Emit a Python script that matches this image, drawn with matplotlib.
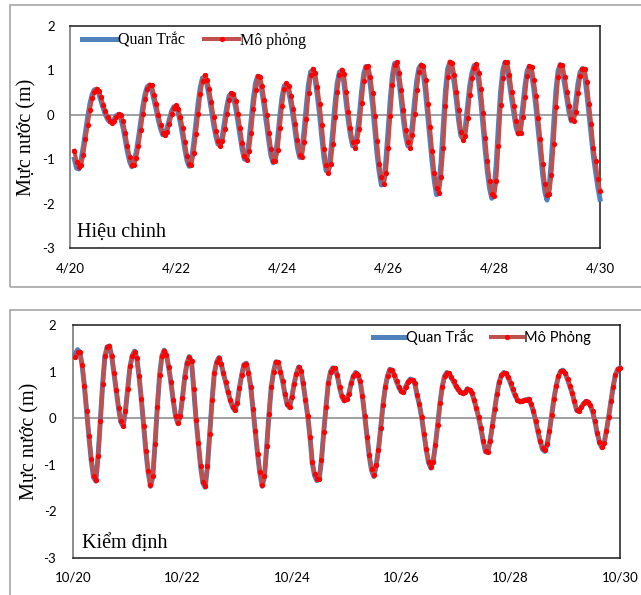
import numpy as np
import matplotlib

matplotlib.use("Agg")
import matplotlib.pyplot as plt
from matplotlib.lines import Line2D
from matplotlib.patches import Rectangle

W, H = 641, 595
SANS = ["Lato", "DejaVu Sans"]
SERIF = ["Liberation Serif", "DejaVu Serif"]
BLUE, RED_LINE, RED_DOT, AXIS_GREY, BOX_GREY = "#4F81BD", "#C0504D", "#FF0000", "#868686", "#A6A6A6"

# Hiệu chỉnh: hourly water level (m), 4/20 02:00 -> 4/30 00:00
START1 = 2
SIM1 = [
    -0.81, -1.06, -1.17, -1.13, -0.91, -0.55, -0.23, 0.11, 0.37, 0.52, 0.59, 0.54,
    0.41, 0.23, 0.08, -0.06, -0.14, -0.18, -0.14, -0.06, 0.02, 0.00, -0.15, -0.40,
    -0.70, -0.95, -1.12, -1.12, -0.97, -0.70, -0.35, 0.02, 0.36, 0.57, 0.68, 0.66,
    0.45, 0.25, 0.00, -0.22, -0.40, -0.46, -0.38, -0.20, 0.01, 0.15, 0.21, 0.14,
    -0.05, -0.30, -0.62, -0.92, -1.11, -1.12, -0.85, -0.44, 0.02, 0.47, 0.76, 0.89,
    0.79, 0.58, 0.28, -0.05, -0.36, -0.58, -0.70, -0.60, -0.32, 0.02, 0.34, 0.49,
    0.46, 0.32, 0.02, -0.30, -0.64, -0.93, -1.01, -0.82, -0.42, 0.14, 0.55, 0.87,
    0.86, 0.64, 0.33, 0.00, -0.40, -0.76, -1.03, -1.04, -0.79, -0.30, 0.20, 0.58,
    0.71, 0.64, 0.42, 0.14, -0.20, -0.57, -0.90, -0.94, -0.61, -0.10, 0.48, 0.89,
    1.04, 0.95, 0.63, 0.25, -0.22, -0.76, -1.13, -1.30, -1.11, -0.65, -0.05, 0.52,
    0.89, 1.02, 0.93, 0.52, 0.07, -0.30, -0.62, -0.74, -0.58, -0.31, 0.26, 0.76,
    1.08, 1.10, 0.86, 0.48, -0.02, -0.60, -1.11, -1.41, -1.56, -1.32, -0.74, -0.03,
    0.66, 1.12, 1.19, 0.95, 0.56, 0.10, -0.34, -0.62, -0.74, -0.46, 0.02, 0.55,
    0.96, 1.13, 1.10, 0.78, 0.24, -0.28, -0.82, -1.32, -1.65, -1.77, -1.40, -0.75,
    0.20, 0.85, 1.20, 1.16, 0.90, 0.52, 0.10, -0.38, -0.56, -0.48, -0.08, 0.45,
    0.82, 1.06, 1.15, 0.95, 0.58, 0.05, -0.52, -1.05, -1.50, -1.78, -1.84, -1.50,
    -0.70, 0.22, 0.82, 1.18, 1.18, 0.90, 0.52, 0.20, -0.15, -0.40, -0.40, -0.05,
    0.40, 0.88, 1.10, 1.08, 0.78, 0.42, -0.08, -0.55, -1.10, -1.55, -1.80, -1.78,
    -1.35, -0.65, 0.18, 0.85, 1.13, 1.12, 0.85, 0.52, 0.20, -0.10, -0.14, 0.06,
    0.50, 0.88, 1.04, 1.04, 0.75, 0.25, -0.20, -0.75, -1.05, -1.45, -1.71,
]
OBS1 = [
    -1.00, -1.20, -1.22, -1.02, -0.73, -0.39, -0.06, 0.24, 0.45, 0.56, 0.57, 0.48,
    0.32, 0.16, 0.01, -0.10, -0.16, -0.16, -0.10, -0.02, 0.01, -0.08, -0.28, -0.55,
    -0.83, -1.05, -1.17, -1.08, -0.84, -0.53, -0.17, 0.19, 0.47, 0.63, 0.67, 0.56,
    0.35, 0.13, -0.11, -0.31, -0.45, -0.44, -0.29, -0.10, 0.08, 0.18, 0.18, 0.05,
    -0.18, -0.46, -0.77, -1.03, -1.16, -1.02, -0.65, -0.21, 0.25, 0.62, 0.83, 0.84,
    0.69, 0.43, 0.12, -0.21, -0.47, -0.66, -0.67, -0.46, -0.15, 0.18, 0.42, 0.48,
    0.39, 0.17, -0.14, -0.47, -0.79, -1.00, -0.95, -0.62, -0.14, 0.35, 0.71, 0.87,
    0.75, 0.49, 0.17, -0.20, -0.58, -0.92, -1.08, -0.94, -0.55, -0.05, 0.39, 0.65,
    0.68, 0.53, 0.28, -0.03, -0.39, -0.74, -0.96, -0.80, -0.36, 0.19, 0.69, 0.97,
    1.00, 0.79, 0.44, 0.02, -0.49, -0.97, -1.26, -1.25, -0.88, -0.35, 0.24, 0.71,
    0.96, 0.98, 0.73, 0.30, -0.12, -0.46, -0.70, -0.69, -0.45, -0.03, 0.51, 0.92,
    1.09, 0.98, 0.67, 0.23, -0.31, -0.86, -1.28, -1.58, -1.55, -1.05, -0.39, 0.32,
    0.89, 1.16, 1.07, 0.76, 0.33, -0.12, -0.48, -0.70, -0.62, -0.22, 0.29, 0.76,
    1.05, 1.12, 0.94, 0.51, -0.02, -0.55, -1.07, -1.50, -1.80, -1.60, -1.08, -0.28,
    0.53, 1.03, 1.18, 1.03, 0.71, 0.31, -0.14, -0.47, -0.54, -0.28, 0.19, 0.64,
    0.94, 1.11, 1.05, 0.77, 0.32, -0.24, -0.79, -1.28, -1.66, -1.88, -1.72, -1.12,
    -0.24, 0.52, 1.00, 1.18, 1.04, 0.71, 0.36, 0.03, -0.28, -0.43, -0.24, 0.17,
    0.64, 0.99, 1.09, 0.93, 0.60, 0.17, -0.32, -0.83, -1.33, -1.72, -1.92, -1.62,
    -1.00, -0.24, 0.52, 0.99, 1.13, 0.98, 0.68, 0.36, 0.05, -0.14, -0.06, 0.28,
    0.69, 0.96, 1.04, 0.90, 0.50, 0.02, -0.48, -0.92, -1.28, -1.62, -1.90,
]

# Kiểm định: hourly water level (m), 10/20 01:00 -> 10/30 00:00
START2 = 1
SIM2 = [
    1.31, 1.41, 1.41, 1.15, 0.70, 0.15, -0.39, -0.88, -1.25, -1.33, -0.82, -0.05,
    0.73, 1.33, 1.53, 1.54, 1.33, 0.97, 0.61, 0.22, -0.07, -0.16, 0.16, 0.63,
    1.11, 1.34, 1.43, 1.29, 0.90, 0.41, -0.16, -0.71, -1.14, -1.43, -1.24, -0.55,
    0.25, 0.93, 1.33, 1.45, 1.36, 1.10, 0.77, 0.38, 0.05, -0.10, 0.04, 0.43,
    0.88, 1.18, 1.31, 1.22, 0.62, -0.03, -0.53, -1.02, -1.36, -1.45, -1.02, -0.33,
    0.38, 0.97, 1.20, 1.29, 1.17, 0.97, 0.78, 0.57, 0.40, 0.25, 0.18, 0.33,
    0.65, 0.93, 1.15, 1.17, 0.98, 0.68, 0.20, -0.28, -0.76, -1.16, -1.43, -1.24,
    -0.60, 0.10, 0.68, 1.00, 1.20, 1.20, 1.00, 0.80, 0.52, 0.30, 0.24, 0.45,
    0.74, 0.95, 1.09, 1.02, 0.75, 0.40, 0.05, -0.40, -0.95, -1.20, -1.30, -1.30,
    -0.90, -0.30, 0.25, 0.75, 1.00, 1.07, 1.07, 0.92, 0.66, 0.47, 0.38, 0.41,
    0.52, 0.75, 0.90, 0.97, 0.92, 0.80, 0.48, 0.05, -0.40, -0.80, -1.10, -1.22,
    -1.00, -0.68, -0.21, 0.29, 0.66, 0.91, 1.04, 1.03, 0.93, 0.79, 0.67, 0.58,
    0.56, 0.68, 0.78, 0.83, 0.82, 0.75, 0.50, 0.30, 0.02, -0.33, -0.66, -0.93,
    -1.05, -0.93, -0.57, -0.14, 0.32, 0.68, 0.90, 0.97, 0.96, 0.88, 0.79, 0.70,
    0.62, 0.57, 0.54, 0.56, 0.63, 0.61, 0.55, 0.40, 0.22, 0.02, -0.21, -0.48,
    -0.70, -0.72, -0.48, -0.16, 0.19, 0.52, 0.78, 0.92, 0.97, 0.96, 0.88, 0.76,
    0.62, 0.50, 0.40, 0.36, 0.37, 0.39, 0.40, 0.41, 0.31, 0.16, -0.05, -0.28,
    -0.48, -0.65, -0.69, -0.56, -0.28, 0.06, 0.42, 0.70, 0.90, 1.01, 1.02, 0.96,
    0.84, 0.70, 0.55, 0.36, 0.18, 0.16, 0.24, 0.32, 0.36, 0.34, 0.28, 0.15,
    -0.06, -0.31, -0.50, -0.61, -0.53, -0.28, 0.03, 0.36, 0.68, 0.93, 1.05, 1.07,
]
OBS2 = [
    1.38, 1.47, 1.42, 1.14, 0.69, 0.14, -0.40, -0.90, -1.27, -1.35, -0.83, -0.06,
    0.72, 1.33, 1.53, 1.55, 1.33, 0.96, 0.60, 0.21, -0.08, -0.17, 0.15, 0.62,
    1.10, 1.34, 1.44, 1.29, 0.89, 0.40, -0.17, -0.72, -1.16, -1.46, -1.26, -0.56,
    0.24, 0.92, 1.33, 1.46, 1.36, 1.09, 0.76, 0.37, 0.04, -0.11, 0.03, 0.42,
    0.87, 1.18, 1.32, 1.22, 0.61, -0.04, -0.54, -1.04, -1.39, -1.48, -1.04, -0.34,
    0.37, 0.96, 1.20, 1.30, 1.17, 0.96, 0.77, 0.56, 0.39, 0.24, 0.17, 0.32,
    0.64, 0.92, 1.15, 1.18, 0.98, 0.67, 0.19, -0.29, -0.78, -1.18, -1.46, -1.26,
    -0.61, 0.09, 0.67, 1.00, 1.21, 1.20, 0.99, 0.79, 0.51, 0.29, 0.23, 0.44,
    0.73, 0.95, 1.10, 1.02, 0.74, 0.39, 0.04, -0.41, -0.97, -1.23, -1.34, -1.31,
    -0.91, -0.31, 0.24, 0.74, 1.00, 1.08, 1.07, 0.91, 0.65, 0.46, 0.37, 0.40,
    0.51, 0.74, 0.90, 0.98, 0.92, 0.79, 0.47, 0.04, -0.41, -0.82, -1.12, -1.25,
    -1.02, -0.69, -0.22, 0.28, 0.65, 0.91, 1.05, 1.03, 0.92, 0.78, 0.66, 0.57,
    0.55, 0.67, 0.78, 0.84, 0.82, 0.74, 0.49, 0.29, 0.01, -0.34, -0.68, -0.95,
    -1.07, -0.94, -0.58, -0.15, 0.31, 0.67, 0.90, 0.98, 0.96, 0.87, 0.78, 0.69,
    0.61, 0.56, 0.53, 0.55, 0.63, 0.61, 0.54, 0.39, 0.21, 0.01, -0.22, -0.50,
    -0.72, -0.73, -0.49, -0.17, 0.18, 0.51, 0.77, 0.92, 0.98, 0.96, 0.87, 0.75,
    0.61, 0.49, 0.39, 0.35, 0.36, 0.38, 0.40, 0.41, 0.30, 0.15, -0.06, -0.29,
    -0.50, -0.67, -0.71, -0.57, -0.29, 0.05, 0.41, 0.69, 0.90, 1.01, 1.03, 0.96,
    0.83, 0.69, 0.54, 0.35, 0.17, 0.15, 0.23, 0.31, 0.36, 0.34, 0.27, 0.14,
    -0.07, -0.32, -0.52, -0.63, -0.54, -0.29, 0.02, 0.35, 0.67, 0.93, 1.05, 1.08,
]

YTICKS = [-3, -2, -1, 0, 1, 2]
YTICK_LABELS = ["-3", "-2", "-1", "0", "1", "2"]
XTICK_DAYS = [0, 2, 4, 6, 8, 10]
XLABELS1 = ["4/20", "4/22", "4/24", "4/26", "4/28", "4/30"]
XLABELS2 = ["10/20", "10/22", "10/24", "10/26", "10/28", "10/30"]
YLABEL = "Mực nước (m)"

MS = 3.8


def box(l, t, r, b):
    # pixel box (left, top, right, bottom) -> figure fraction rect
    return [l / W, 1 - b / H, (r - l) / W, (b - t) / H]


def panel(fig, rect, start, obs, sim, xlabels, tag, tag_pos, leg_names, leg_font, leg_size, leg_anchor, ypad, xpad):
    ax = fig.add_axes(rect)
    days_obs = (start + np.arange(len(obs))) / 24.0
    days_sim = (start + np.arange(len(sim))) / 24.0
    ax.axhline(0, color=AXIS_GREY, lw=1.1, zorder=1)
    ax.plot(days_obs, obs, color=BLUE, lw=3.6, solid_joinstyle="round", zorder=3, clip_on=False)
    ax.plot(days_sim, sim, color=RED_LINE, lw=2.9, marker="o", ms=MS,
            mfc=RED_DOT, mec=RED_DOT, mew=0, zorder=4, clip_on=False)

    ax.set_xlim(0, 10)
    ax.set_ylim(-3, 2)
    ax.set_xticks(XTICK_DAYS, xlabels, family=SANS, fontsize=9.5)
    ax.set_yticks(YTICKS, YTICK_LABELS, family=SANS, fontsize=9.5)
    ax.tick_params(axis="y", length=0, pad=ypad)
    ax.tick_params(axis="x", length=0, pad=xpad)
    for s in ("top", "right", "bottom"):
        ax.spines[s].set_color("#1a1a1a")
        ax.spines[s].set_linewidth(1.1)
    ax.spines["left"].set_color(AXIS_GREY)
    ax.spines["left"].set_linewidth(1.3)

    ax.text(tag_pos[0], tag_pos[1], tag, transform=ax.transAxes, family=SERIF,
            fontsize=14.5, va="baseline", ha="left")

    handles = [
        Line2D([0], [0], color=BLUE, lw=3.6, label=leg_names[0]),
        Line2D([0], [0], color=RED_LINE, lw=2.9, marker="o", ms=MS, mfc=RED_DOT, mec=RED_DOT,
               mew=0, label=leg_names[1]),
    ]
    ax.legend(handles=handles, loc="center left", bbox_to_anchor=leg_anchor, ncol=2,
              frameon=False, prop={"family": leg_font, "size": leg_size}, borderpad=0,
              borderaxespad=0, handlelength=2.2, handletextpad=0.05, columnspacing=1.2,
              numpoints=1)
    return ax


def main():
    fig = plt.figure(figsize=(W / 100, H / 100), dpi=100)
    fig.patch.set_facecolor("white")

    # outer chart-area frames (they run off the right / bottom edge in the source)
    for l, t, r, b in [(10, 5, 660, 287), (10, 310, 660, 610)]:
        fig.add_artist(Rectangle((l / W, 1 - b / H), (r - l) / W, (b - t) / H,
                                 transform=fig.transFigure, fill=False,
                                 edgecolor=BOX_GREY, lw=1.2))

    panel(fig, box(70, 26, 600, 248), START1, OBS1, SIM1, XLABELS1,
          "Hiệu chinh", (7 / 530, 11 / 222), ["Quan Trắc", "Mô phỏng"], SERIF, 11.5,
          (12 / 530, 1 - 14.7 / 222), ypad=11, xpad=10.5)
    panel(fig, box(73, 325, 620, 558), START2, OBS2, SIM2, XLABELS2,
          "Kiểm định", (9 / 547, 9 / 233), ["Quan Trắc", "Mô Phỏng"], SANS, 10.5,
          ((373 - 73) / 547, 1 - 12 / 233), ypad=12, xpad=10)

    fig.text(27 / W, 1 - 137 / H, YLABEL, rotation=90, family=SERIF, fontsize=14.5,
             ha="center", va="center")
    fig.text(30 / W, 1 - 441.5 / H, YLABEL, rotation=90, family=SERIF, fontsize=14.5,
             ha="center", va="center")

    fig.savefig("out.png", dpi=100, facecolor="white")


if __name__ == "__main__":
    main()
